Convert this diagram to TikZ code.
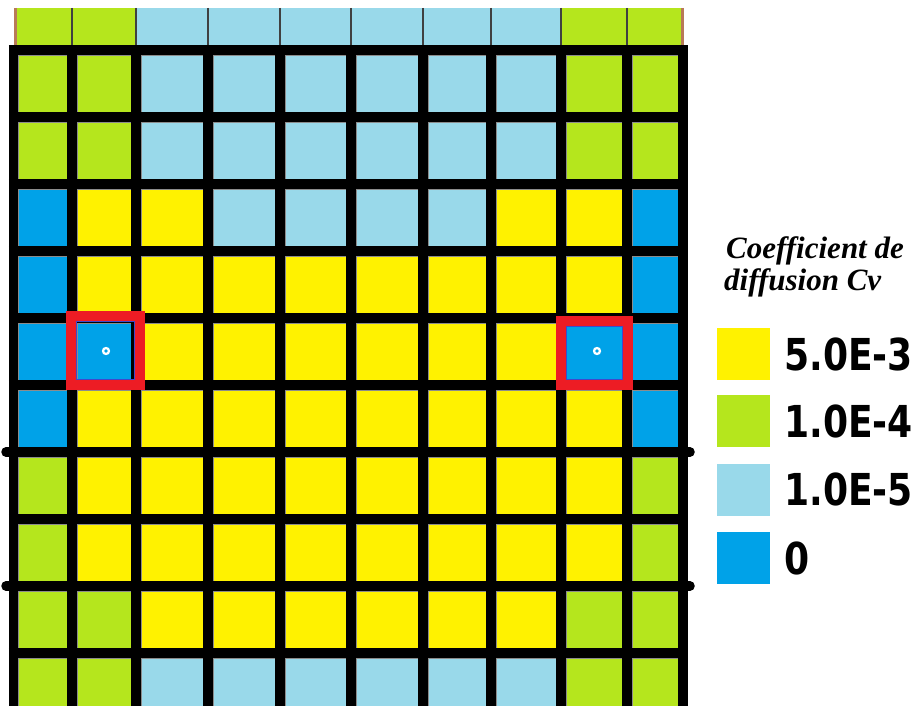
\documentclass[tikz,border=0pt]{standalone}
\usepackage{fontspec}
\usepackage{xcolor}
\usetikzlibrary{positioning}
\newfontfamily\legendfont{DejaVu Sans}[FakeStretch=0.82]
\newfontfamily\titlefont{Liberation Serif}[FakeStretch=1.0]
\definecolor{cvY}{HTML}{FFF200}
\definecolor{cvG}{HTML}{B5E61D}
\definecolor{cvL}{HTML}{99D9EA}
\definecolor{cvB}{HTML}{00A2E8}
\definecolor{cvred}{HTML}{ED1C24}
\definecolor{cvbrown}{HTML}{B97A57}
\definecolor{cvindigo}{HTML}{3F48CC}
\tikzset{
  cell/.style    ={draw=black!45, line width=0.6pt},
  gridline/.style={line width=9.5pt, black},
  sepline/.style ={line width=1.2pt, black!75},
  hilite/.style  ={draw=cvred, line width=10pt},
  swatch/.style  ={rectangle, inner sep=0pt, minimum width=53pt,
                   minimum height=52pt},
  cvval/.style   ={font=\legendfont\bfseries\fontsize{44}{44}\selectfont,
                   inner sep=0pt, anchor=west},
  cvtitle/.style ={font=\titlefont\bfseries\itshape\fontsize{31}{32}\selectfont,
                   inner sep=0pt, anchor=base west}
}
\def\xs{{13.5,72,136,208,280,351,423,491,561,627,683}}

\begin{document}
\begin{tikzpicture}[x=1pt, y=-1pt]
\useasboundingbox (0,0) rectangle (921,706);

%  Top strip (cut row)
\foreach \c [count=\i from 0] in {G,G,L,L,L,L,L,L,G,G} {
  \pgfmathsetmacro\xa{\xs[\i]}
  \pgfmathsetmacro\xb{\xs[\i+1]}
  \fill[cv\c] (\xa,8) rectangle (\xb,46);
}
\foreach \x in {72,136,208,280,351,423,491,561,627}
  \draw[sepline] (\x,8) -- (\x,46);
\draw[cvbrown, line width=3pt] (15,8) -- (15,46);
\draw[cvbrown, line width=3pt] (682,8) -- (682,46);

%  Cells
\foreach \ya/\yb/\pat in {
   50/117/{G,G,L,L,L,L,L,L,G,G},
  117/184/{G,G,L,L,L,L,L,L,G,G},
  184/251/{B,Y,Y,L,L,L,L,Y,Y,B},
  251/318/{B,Y,Y,Y,Y,Y,Y,Y,Y,B},
  318/385/{B,B,Y,Y,Y,Y,Y,Y,B,B},
  385/452/{B,Y,Y,Y,Y,Y,Y,Y,Y,B},
  452/519/{G,Y,Y,Y,Y,Y,Y,Y,Y,G},
  519/586/{G,Y,Y,Y,Y,Y,Y,Y,Y,G},
  586/653/{G,G,Y,Y,Y,Y,Y,Y,G,G},
  653/720/{G,G,L,L,L,L,L,L,G,G}}
  \foreach \c [count=\i from 0] in \pat {
    \pgfmathsetmacro\xa{\xs[\i]+5}
    \pgfmathsetmacro\xb{\xs[\i+1]-5}
    \filldraw[cell, fill=cv\c] (\xa,\ya+5) rectangle (\xb,\yb-5);
  }

%  Black grid
\foreach \x in {13.5,72,136,208,280,351,423,491,561,627,683}
  \draw[gridline] (\x,45.25) -- (\x,706);
\foreach \y in {50,117,...,653}
  \draw[gridline] (8.75,\y) -- (687.75,\y);
\draw[gridline, line cap=round] (6,452) -- (690,452);
\draw[gridline, line cap=round] (6,586) -- (690,586);

%  Highlighted cells
\draw[cvindigo, line width=1pt] (76.5,321.5) rectangle (134.5,379.5);
\draw[cvindigo, line width=1pt] (566.5,326.5) rectangle (622.5,379.5);
\draw[hilite] (71,316) rectangle (140,385);
\draw[hilite] (561,321) rectangle (628,385);
\foreach \x in {106,597} {
  \fill[white] (\x,351) circle (4.2pt);
  \fill[cvB] (\x,351) circle (1.8pt);
}

%  Legend
\node[cvtitle] (title1) at (726,258) {Coefficient de};
\node[cvtitle] (title2) at (724,290) {diffusion Cv};
\node[swatch, fill=cvY] (swY) at (743.5,354) {};
\node[swatch, fill=cvG, below=15pt of swY] (swG) {};
\node[swatch, fill=cvL, below=16pt of swG] (swL) {};
\node[swatch, fill=cvB, below=16pt of swL] (swB) {};
\node[cvval, right=14pt of swY] (valY) {5.0E-3};
\node[cvval, right=14pt of swG] (valG) {1.0E-4};
\node[cvval, right=14pt of swL] (valL) {1.0E-5};
\node[cvval, right=14pt of swB] (valB) {0};
\end{tikzpicture}
\end{document}
